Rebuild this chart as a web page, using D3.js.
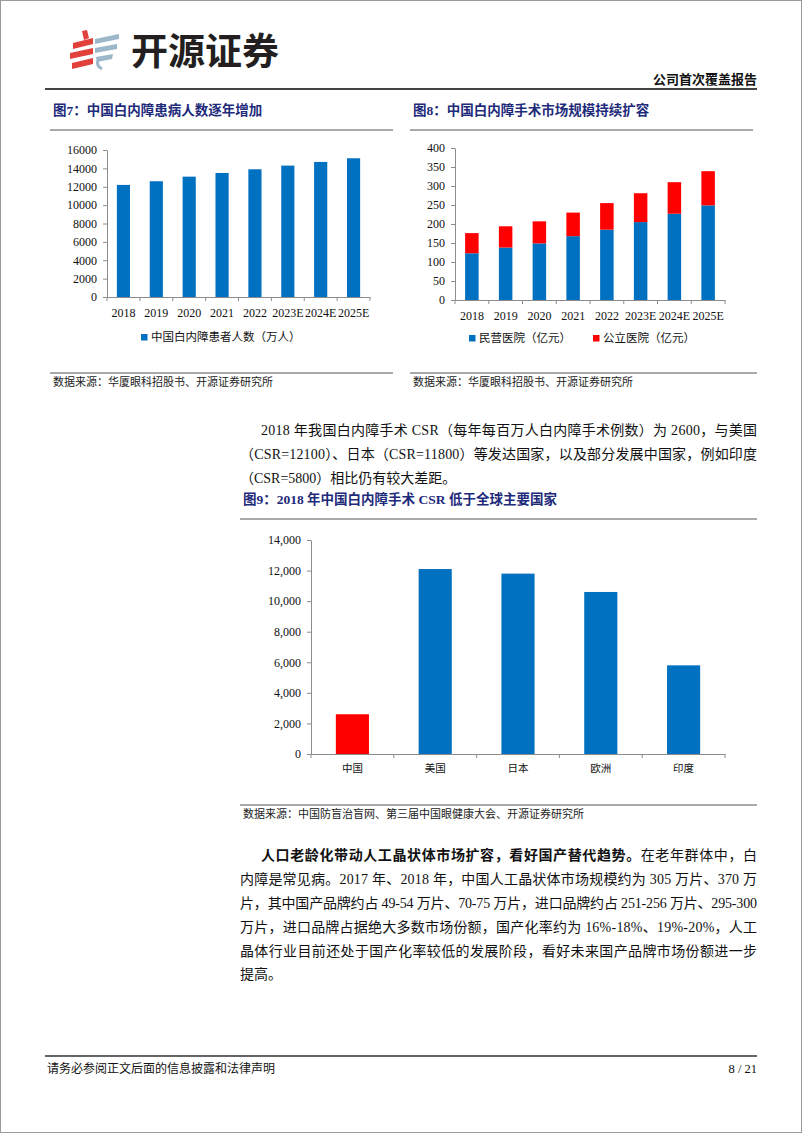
<!DOCTYPE html>
<html>
<head>
<meta charset="utf-8">
<script src="https://cdn.jsdelivr.net/npm/d3@7"></script>
<style>
  body { margin: 0; background: #fff; }
  svg { display: block; }
</style>
</head>
<body>
<script>
// chart data
var years = ["2018", "2019", "2020", "2021", "2022", "2023E", "2024E", "2025E"];
var patients = [12200, 12600, 13100, 13500, 13900, 14300, 14700, 15100];
var privateHosp = [123, 138, 149, 168, 185, 205, 227, 249];
var publicHosp = [53, 56, 58, 62, 70, 76, 83, 90];
var countries = ["中国", "美国", "日本", "欧洲", "印度"];
var csr = [2600, 12100, 11800, 10600, 5800];
var yTicks7 = [0, 2000, 4000, 6000, 8000, 10000, 12000, 14000, 16000];
var yTicks8 = [0, 50, 100, 150, 200, 250, 300, 350, 400];
var yTicks9 = [0, 2000, 4000, 6000, 8000, 10000, 12000, 14000];

var BLUE = "#0070c0", RED = "#ff0000", NAVY = "#1e2a7a", AXIS = "#8c8c8c";
var SERIF = "'Liberation Serif', 'Noto Sans CJK SC', serif";
var CJK = "'Liberation Serif', 'Noto Sans CJK SC', sans-serif";

var svg = d3.select("body").append("svg").attr("width", 802).attr("height", 1133);

// page frame
svg.append("rect").attr("x", 0.5).attr("y", 0.5).attr("width", 801).attr("height", 1132)
  .attr("fill", "none").attr("stroke", "#9a9a9a");

// ---------- header ----------
var logo = svg.append("g");
var red = "#e2403a", grey = "#9bb7c9";
logo.append("path").attr("fill", red).attr("d", "M82,31 L87,30 L89,38 L84,40 Z");
logo.append("path").attr("fill", red).attr("d", "M73,43 L93,38 L93,44 L73,49 Z");
logo.append("path").attr("fill", red).attr("d", "M70,53 L93,48 L93,54 L70,59 Z");
logo.append("path").attr("fill", red).attr("d", "M72,63 L93,58 L93,64 L72,69 Z");
logo.append("path").attr("fill", grey).attr("d", "M95,39 L119,34 L119,39 L95,44 Z");
logo.append("path").attr("fill", grey).attr("d", "M95,48 L117,44 L117,49 L95,53 Z");
logo.append("path").attr("fill", grey).attr("d", "M96,57 L113,54 L112,59 L97,62 Z");
logo.append("path").attr("fill", "none").attr("stroke", grey).attr("stroke-width", 3)
  .attr("d", "M98,60 Q96,66 102,69");
svg.append("text").attr("x", 131).attr("y", 65)
  .attr("font-family", "'Noto Sans CJK SC', sans-serif").attr("font-weight", 700)
  .attr("font-size", 37).attr("fill", "#231f20").text("开源证券");

svg.append("text").attr("x", 757).attr("y", 84).attr("text-anchor", "end")
  .attr("font-family", CJK).attr("font-weight", 700).attr("font-size", 13)
  .attr("fill", "#111").text("公司首次覆盖报告");
svg.append("line").attr("x1", 45).attr("x2", 757).attr("y1", 89).attr("y2", 89)
  .attr("stroke", "#444").attr("stroke-width", 2);

// ---------- helpers ----------
function title(x, y, t, x2) {
  svg.append("text").attr("x", x).attr("y", y)
    .attr("font-family", CJK).attr("font-weight", 700).attr("font-size", 13.5)
    .attr("fill", NAVY).text(t);
  svg.append("line").attr("x1", x - 3).attr("x2", x2).attr("y1", y + 15).attr("y2", y + 15)
    .attr("stroke", "#555").attr("stroke-width", 1);
}
function source(x, y, t, x2) {
  svg.append("line").attr("x1", x - 3).attr("x2", x2).attr("y1", y - 13).attr("y2", y - 13)
    .attr("stroke", "#555").attr("stroke-width", 1);
  svg.append("text").attr("x", x).attr("y", y)
    .attr("font-family", CJK).attr("font-size", 11).attr("fill", "#222").text(t);
}
function axes(x, y, ticks, fmt, labelFont, labelSize) {
  var gy = svg.append("g").attr("transform", "translate(" + x.range()[0] + ",0)")
    .call(d3.axisLeft(y).tickValues(ticks).tickFormat(fmt).tickSize(4).tickSizeOuter(0).tickPadding(6));
  gy.selectAll("path,line").attr("stroke", AXIS);
  gy.selectAll("text").attr("font-family", SERIF).attr("font-size", 12).attr("fill", "#111");

  var base = y(0);
  var gx = svg.append("g").attr("transform", "translate(0," + base + ")")
    .call(d3.axisBottom(x).tickSize(0).tickSizeOuter(0).tickPadding(11));
  gx.selectAll("path").attr("stroke", AXIS);
  gx.selectAll("text").attr("font-family", labelFont).attr("font-size", labelSize).attr("fill", "#111");
  // boundary ticks between categories
  var n = x.domain().length, step = x.step(), x0 = x.range()[0];
  gx.selectAll(".bt").data(d3.range(n + 1)).enter().append("line")
    .attr("x1", function(i){ return x0 + i * step; })
    .attr("x2", function(i){ return x0 + i * step; })
    .attr("y1", 0).attr("y2", 4).attr("stroke", AXIS);
}
function legendItem(x, y, color, t) {
  svg.append("rect").attr("x", x).attr("y", y - 7).attr("width", 6.5).attr("height", 6.5).attr("fill", color);
  svg.append("text").attr("x", x + 10).attr("y", y)
    .attr("font-family", CJK).attr("font-size", 11.5).attr("fill", "#111").text(t);
}

// ---------- figure 7 ----------
title(53, 115, "图7：中国白内障患病人数逐年增加", 393);
var x7 = d3.scaleBand().domain(years).range([107, 370]).paddingInner(0.6).paddingOuter(0.3);
var y7 = d3.scaleLinear().domain([0, 16000]).range([297, 150]);
axes(x7, y7, yTicks7, d3.format("d"), SERIF, 12);
svg.append("g").selectAll("rect").data(patients).enter().append("rect")
  .attr("x", function(d, i){ return x7(years[i]); })
  .attr("width", x7.bandwidth())
  .attr("y", function(d){ return y7(d); })
  .attr("height", function(d){ return y7(0) - y7(d); })
  .attr("fill", BLUE);
legendItem(141, 341, BLUE, "中国白内障患者人数（万人）");
source(53, 386, "数据来源：华厦眼科招股书、开源证券研究所", 393);

// ---------- figure 8 ----------
title(413, 115, "图8：中国白内障手术市场规模持续扩容", 753);
var x8 = d3.scaleBand().domain(years).range([455, 725]).paddingInner(0.6).paddingOuter(0.3);
var y8 = d3.scaleLinear().domain([0, 400]).range([300, 148]);
axes(x8, y8, yTicks8, d3.format("d"), SERIF, 12);
var stack8 = years.map(function(yr, i){ return { year: yr, priv: privateHosp[i], pub: publicHosp[i] }; });
var layers = d3.stack().keys(["priv", "pub"])(stack8);
var colors8 = [BLUE, RED];
svg.append("g").selectAll("g").data(layers).enter().append("g")
  .attr("fill", function(d, i){ return colors8[i]; })
  .selectAll("rect").data(function(d){ return d; }).enter().append("rect")
  .attr("x", function(d){ return x8(d.data.year); })
  .attr("width", x8.bandwidth())
  .attr("y", function(d){ return y8(d[1]); })
  .attr("height", function(d){ return y8(d[0]) - y8(d[1]); });
legendItem(469, 342, BLUE, "民营医院（亿元）");
legendItem(593, 342, RED, "公立医院（亿元）");
source(413, 386, "数据来源：华厦眼科招股书、开源证券研究所", 757);

// ---------- paragraph 1 ----------
function line(x, y, w, bold) {
  var el = svg.append("text").attr("x", x).attr("y", y)
    .attr("font-family", CJK).attr("font-size", 14).attr("fill", "#111");
  if (w) el.attr("textLength", w).attr("lengthAdjust", "spacing");
  if (bold) el.attr("font-weight", 700);
  return el;
}
line(261, 435, 496).text("2018 年我国白内障手术 CSR（每年每百万人白内障手术例数）为 2600，与美国");
line(240, 459, 517).text("（CSR=12100）、日本（CSR=11800）等发达国家，以及部分发展中国家，例如印度");
line(240, 483, null).text("（CSR=5800）相比仍有较大差距。");

// ---------- figure 9 ----------
title(243, 504, "图9：2018 年中国白内障手术 CSR 低于全球主要国家", 757);
var x9 = d3.scaleBand().domain(countries).range([311, 725]).paddingInner(0.6).paddingOuter(0.3);
var y9 = d3.scaleLinear().domain([0, 14000]).range([754, 540]);
axes(x9, y9, yTicks9, d3.format(","), CJK, 10.5);
svg.append("g").selectAll("rect").data(csr).enter().append("rect")
  .attr("x", function(d, i){ return x9(countries[i]); })
  .attr("width", x9.bandwidth())
  .attr("y", function(d){ return y9(d); })
  .attr("height", function(d){ return y9(0) - y9(d); })
  .attr("fill", function(d, i){ return i === 0 ? RED : BLUE; });
source(243, 818, "数据来源：中国防盲治盲网、第三届中国眼健康大会、开源证券研究所", 757);

// ---------- paragraph 2 ----------
var p1 = line(261, 860, 496);
p1.append("tspan").attr("font-weight", 700).text("人口老龄化带动人工晶状体市场扩容，看好国产替代趋势。");
p1.append("tspan").text("在老年群体中，白");
line(240, 884, 517).text("内障是常见病。2017 年、2018 年，中国人工晶状体市场规模约为 305 万片、370 万");
line(240, 908, 517).text("片，其中国产品牌约占 49-54 万片、70-75 万片，进口品牌约占 251-256 万片、295-300");
line(240, 932, 517).text("万片，进口品牌占据绝大多数市场份额，国产化率约为 16%-18%、19%-20%，人工");
line(240, 956, 517).text("晶体行业目前还处于国产化率较低的发展阶段，看好未来国产品牌市场份额进一步");
line(240, 979, null).text("提高。");

// ---------- footer ----------
svg.append("line").attr("x1", 45).attr("x2", 757).attr("y1", 1056).attr("y2", 1056)
  .attr("stroke", "#333").attr("stroke-width", 1.5);
svg.append("text").attr("x", 47).attr("y", 1073)
  .attr("font-family", CJK).attr("font-size", 12).attr("fill", "#111").text("请务必参阅正文后面的信息披露和法律声明");
svg.append("text").attr("x", 757).attr("y", 1073).attr("text-anchor", "end")
  .attr("font-family", SERIF).attr("font-size", 12.5).attr("fill", "#111").text("8 / 21");
</script>
</body>
</html>
